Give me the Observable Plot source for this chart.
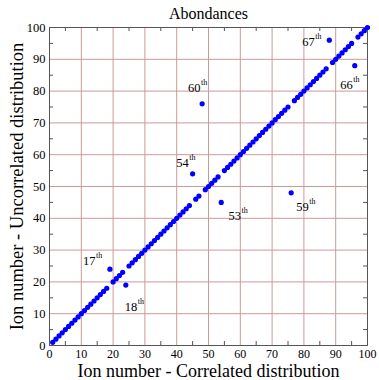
<!DOCTYPE html>
<html><head><meta charset="utf-8">
<script src="https://cdn.jsdelivr.net/npm/d3@7"></script>
<script src="https://cdn.jsdelivr.net/npm/@observablehq/plot@0.6"></script>
<style>html,body{margin:0;padding:0;background:#fff;} #chart svg{display:block}</style>
</head><body><div id="chart"></div>
<script>
const correlated = [1,2,3,4,5,6,7,8,9,10,11,12,13,14,15,16,17,18,19,20,21,22,23,24,25,26,27,28,29,30,31,32,33,34,35,36,37,38,39,40,41,42,43,44,45,46,47,48,49,50,51,52,53,54,55,56,57,58,59,60,61,62,63,64,65,66,67,68,69,70,71,72,73,74,75,76,77,78,79,80,81,82,83,84,85,86,87,88,89,90,91,92,93,94,95,96,97,98,99,100];
const uncorrelated = [1,2,3,4,5,6,7,8,9,10,11,12,13,14,15,16,17,18,24,20,21,22,23,19,25,26,27,28,29,30,31,32,33,34,35,36,37,38,39,40,41,42,43,44,54,46,47,76,49,50,51,52,53,45,55,56,57,58,59,60,61,62,63,64,65,66,67,68,69,70,71,72,73,74,75,48,77,78,79,80,81,82,83,84,85,86,87,96,89,90,91,92,93,94,95,88,97,98,99,100];
const axisTicks = [0,10,20,30,40,50,60,70,80,90,100];
const gridTicks = [10,20,30,40,50,60,70,80,90];
const minorTicks = [5,15,25,35,45,55,65,75,85,95];
const labelNumbers = ["17","18","54","53","60","59","67","66"];
const labelSuffix = "th";
const labelX = [14.5,27.6,43.8,60.2,47.5,81.5,83.4,95.4];
const labelY = [25.2,11.0,56.1,39.6,79.7,42.2,94.1,80.7];
const title = "Abondances";
const xLabel = "Ion number - Correlated distribution";
const yLabel = "Ion number - Uncorrelated distribution";

const points = correlated.map((x, i) => ({x, y: uncorrelated[i]}));
const labels = labelNumbers.map((n, i) => ({n, x: labelX[i], y: labelY[i]}));
const W = 379, H = 380, mt = 27, mb = 35, ml = 49, mr = 12;
const ph = H - mt - mb, pw = W - ml - mr;
const frameColor = "#555";
const gridColor = "#cc9999";

const chart = Plot.plot({
  width: W, height: H,
  marginTop: mt, marginBottom: mb, marginLeft: ml, marginRight: mr,
  style: {fontFamily: "'Liberation Serif', 'DejaVu Serif', serif", background: "#fff", color: "#000"},
  x: {domain: [0, 100]},
  y: {domain: [0, 100]},
  marks: [
    Plot.gridX(gridTicks, {stroke: gridColor, strokeOpacity: 1}),
    Plot.gridY(gridTicks, {stroke: gridColor, strokeOpacity: 1}),
    Plot.ruleX(minorTicks, {stroke: frameColor, insetTop: ph - 4}),
    Plot.ruleX(minorTicks, {stroke: frameColor, insetBottom: ph - 4}),
    Plot.ruleY(minorTicks, {stroke: frameColor, insetRight: pw - 4}),
    Plot.ruleY(minorTicks, {stroke: frameColor, insetLeft: pw - 4}),
    Plot.frame({stroke: frameColor}),
    Plot.axisX(axisTicks, {anchor: "bottom", tickSize: 0, tickPadding: 4, fontSize: 12, label: null}),
    Plot.axisY(axisTicks, {anchor: "left", tickSize: 0, tickPadding: 4, fontSize: 12.5, label: null}),
    Plot.dot(points, {x: "x", y: "y", r: 2.6, fill: "#0000ff", stroke: null}),
    Plot.text(labels, {x: "x", y: "y", text: "n", textAnchor: "end", lineAnchor: "bottom", fontSize: 12.5, fill: "#000"}),
    Plot.text(labels, {x: "x", y: "y", text: () => labelSuffix, textAnchor: "start", lineAnchor: "bottom", dx: 0.5, dy: -7, fontSize: 8, fill: "#000"}),
    Plot.text([title], {frameAnchor: "top", textAnchor: "middle", lineAnchor: "bottom", dy: -9, fontSize: 16}),
    Plot.text([xLabel], {frameAnchor: "bottom", textAnchor: "middle", lineAnchor: "bottom", dy: 31, fontSize: 18}),
    Plot.text([yLabel], {frameAnchor: "left", textAnchor: "middle", rotate: -90, lineAnchor: "bottom", dx: -27, fontSize: 18.5})
  ]
});
document.getElementById("chart").appendChild(chart);
</script>
</body></html>
